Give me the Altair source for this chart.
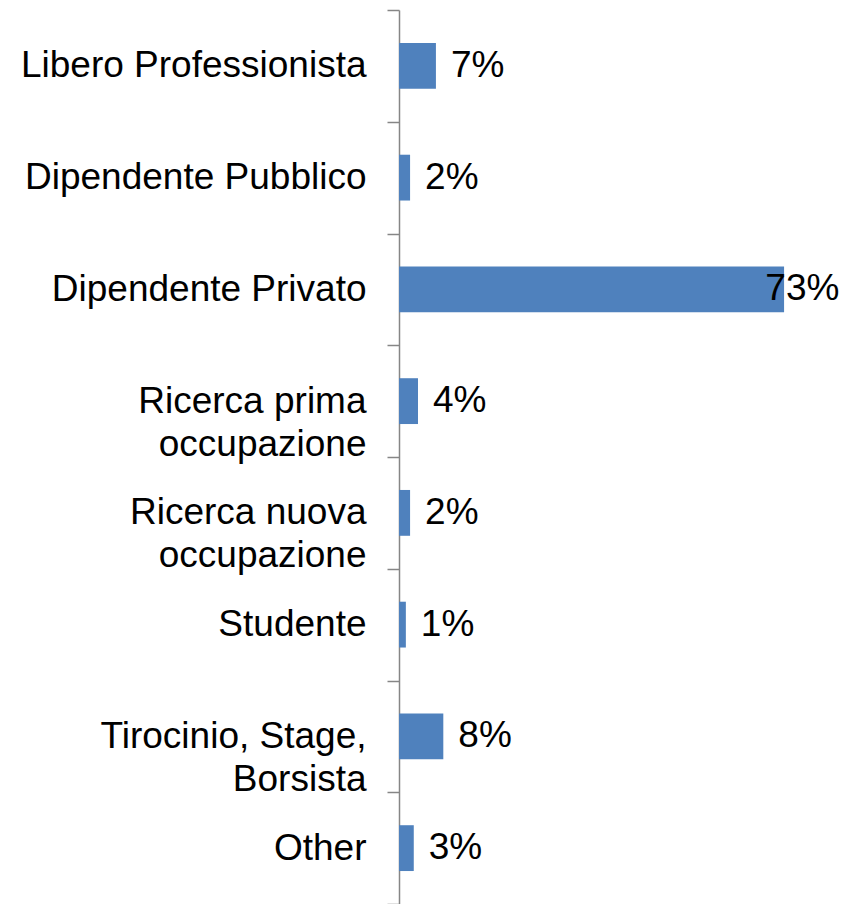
import altair as alt
import pandas as pd

NB = "\u00a0"
categories = [
    "Libero Professionista",
    "Dipendente Pubblico",
    "Dipendente Privato",
    "Ricerca prima|occupazione" + NB,
    "Ricerca nuova|occupazione" + NB,
    "Studente",
    "Tirocinio, Stage,|Borsista" + NB * 6,
    "Other",
]
values = [7.0, 2.1, 73.0, 3.6, 2.1, 1.3, 8.4, 2.8]
labels = ["7%", "2%", "73%", "4%", "2%", "1%", "8%", "3%"]

df = pd.DataFrame({"cat": categories, "value": values, "label": labels})

FONT = "Liberation Sans, Arial, Helvetica, sans-serif"

y_enc = alt.Y(
    "cat:N",
    sort=categories,
    title=None,
    scale=alt.Scale(paddingInner=0, paddingOuter=0),
    axis=alt.Axis(
        labelExpr="split(datum.label, '|')",
        labelFont=FONT,
        labelFontSize=37,
        labelColor="#000000",
        labelLineHeight=43,
        labelPadding=21,
        labelLimit=400,
        tickBand="extent",
        tickSize=12,
        tickColor="#868686",
        tickWidth=1.5,
        domainColor="#868686",
        domainWidth=1.5,
        grid=False,
    ),
)

x_scale = alt.Scale(domain=[0, 80], nice=False)

bars = alt.Chart(df).mark_bar(color="#4F81BD", height={"band": 0.41}).encode(
    x=alt.X("value:Q", scale=x_scale, axis=None),
    y=y_enc,
)

text = (
    alt.Chart(df)
    .transform_calculate(pos="min(datum.value, 66.6)")
    .mark_text(
        align="left",
        baseline="middle",
        dx=15,
        font=FONT,
        fontSize=37,
        color="#000000",
    )
    .encode(
        x=alt.X("pos:Q", scale=x_scale, axis=None),
        y=alt.Y("cat:N", sort=categories),
        text="label:N",
    )
)

chart = (
    alt.layer(bars, text)
    .properties(
        width=422,
        height=894,
        padding={"left": 391, "top": 2, "right": 19, "bottom": 0},
        autosize="none",
        background="white",
    )
    .configure_view(strokeWidth=0, stroke="transparent")
)

chart.save("out.html", embed_options={"renderer": "svg", "actions": False})
